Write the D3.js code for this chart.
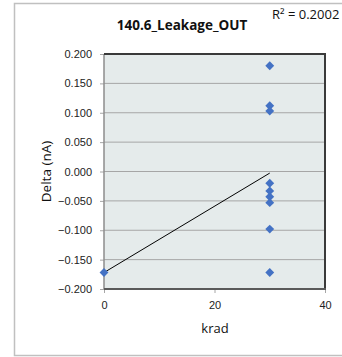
<!DOCTYPE html>
<html><head><meta charset="utf-8">
<script src="https://cdn.jsdelivr.net/npm/d3@7"></script>
<style>body{margin:0;background:#fff;}svg{display:block;font-family:"Open Sans","Liberation Sans",sans-serif;}</style>
</head><body>
<script>
const title = "140.6_Leakage_OUT";
const xLabel = "krad";
const yLabel = "Delta (nA)";
const rSquaredText = "R² = 0.2002";
const xValues = [0, 30, 30, 30, 30, 30, 30, 30, 30, 30];
const yValues = [-0.172, 0.180, 0.112, 0.103, -0.020, -0.033, -0.043, -0.053, -0.098, -0.172];
const xTicks = [0, 20, 40];
const yTicks = [0.200, 0.150, 0.100, 0.050, 0.000, -0.050, -0.100, -0.150, -0.200];

const W = 342, H = 357;
const svg = d3.select("body").append("svg").attr("width", W).attr("height", H);

// outer chart border
svg.append("rect").attr("x", 14.5).attr("y", 3.5).attr("width", 340).attr("height", 352)
  .attr("fill", "#fff").attr("stroke", "#c0c0c0").attr("stroke-width", 1.5);

const L = 104, R = 325, T = 54, B = 289;
const x = d3.scaleLinear().domain([0, 40]).range([L, R]);
const y = d3.scaleLinear().domain([-0.2, 0.2]).range([B, T]);

svg.append("rect").attr("x", L).attr("y", T).attr("width", R - L).attr("height", B - T)
  .attr("fill", "#e5ebeb");

// gridlines
svg.append("g").selectAll("line").data(yTicks.filter(d => d > -0.2 && d < 0.2)).join("line")
  .attr("x1", L).attr("x2", R).attr("y1", d => y(d)).attr("y2", d => y(d))
  .attr("stroke", "#a6a6a6").attr("stroke-width", 1);

// axes
const yAxis = d3.axisLeft(y).tickValues(yTicks).tickFormat(d3.format(".3f")).tickSize(4).tickPadding(8);
const gy = svg.append("g").attr("transform", `translate(${L},0)`).call(yAxis);
gy.select(".domain").remove();
gy.selectAll(".tick line").attr("stroke", "#a6a6a6");
gy.selectAll("text").attr("font-size", 11).attr("fill", "#222");

const xAxis = d3.axisBottom(x).tickValues(xTicks).tickSize(4).tickPadding(8);
const gx = svg.append("g").attr("transform", `translate(0,${B})`).call(xAxis);
gx.select(".domain").remove();
gx.selectAll(".tick line").attr("stroke", "#a6a6a6");
gx.selectAll("text").attr("font-size", 11).attr("fill", "#222");

// plot borders
svg.append("line").attr("x1", L).attr("x2", L).attr("y1", T).attr("y2", B).attr("stroke", "#8c8c8c").attr("stroke-width", 1.5);
svg.append("line").attr("x1", L).attr("x2", R + 1).attr("y1", T).attr("y2", T).attr("stroke", "#3a3a3a").attr("stroke-width", 2);
svg.append("line").attr("x1", R).attr("x2", R).attr("y1", T).attr("y2", B).attr("stroke", "#3a3a3a").attr("stroke-width", 2);
svg.append("line").attr("x1", L).attr("x2", R + 1).attr("y1", B).attr("y2", B).attr("stroke", "#5a5a5a").attr("stroke-width", 2);

// trendline (least squares)
const n = xValues.length;
const mx = d3.mean(xValues), my = d3.mean(yValues);
let sxy = 0, sxx = 0;
for (let i = 0; i < n; i++) { sxy += (xValues[i] - mx) * (yValues[i] - my); sxx += (xValues[i] - mx) ** 2; }
const slope = sxy / sxx, icpt = my - slope * mx;
const [x0, x1] = d3.extent(xValues);
svg.append("line").attr("x1", x(x0)).attr("y1", y(icpt + slope * x0))
  .attr("x2", x(x1)).attr("y2", y(icpt + slope * x1))
  .attr("stroke", "#000").attr("stroke-width", 1);

// points
const diamond = d3.symbol().type(d3.symbolDiamond2).size(50);
svg.append("g").selectAll("path").data(xValues.map((d, i) => [d, yValues[i]])).join("path")
  .attr("d", diamond)
  .attr("transform", d => `translate(${x(d[0])},${y(d[1])})`)
  .attr("fill", "#4472c4");

// title
svg.append("text").attr("x", 182).attr("y", 30).attr("text-anchor", "middle")
  .attr("font-size", 13.5).attr("font-weight", "bold").attr("fill", "#111").text(title);

// R²
svg.append("text").attr("x", 272).attr("y", 19).attr("font-size", 13).attr("fill", "#111").text(rSquaredText);

// axis titles
svg.append("text").attr("x", 215).attr("y", 333).attr("text-anchor", "middle")
  .attr("font-size", 13).attr("fill", "#111").text(xLabel);
svg.append("text").attr("transform", `translate(51,${(T + B) / 2}) rotate(-90)`).attr("text-anchor", "middle")
  .attr("font-size", 13.5).attr("fill", "#111").text(yLabel);
</script>
</body></html>
